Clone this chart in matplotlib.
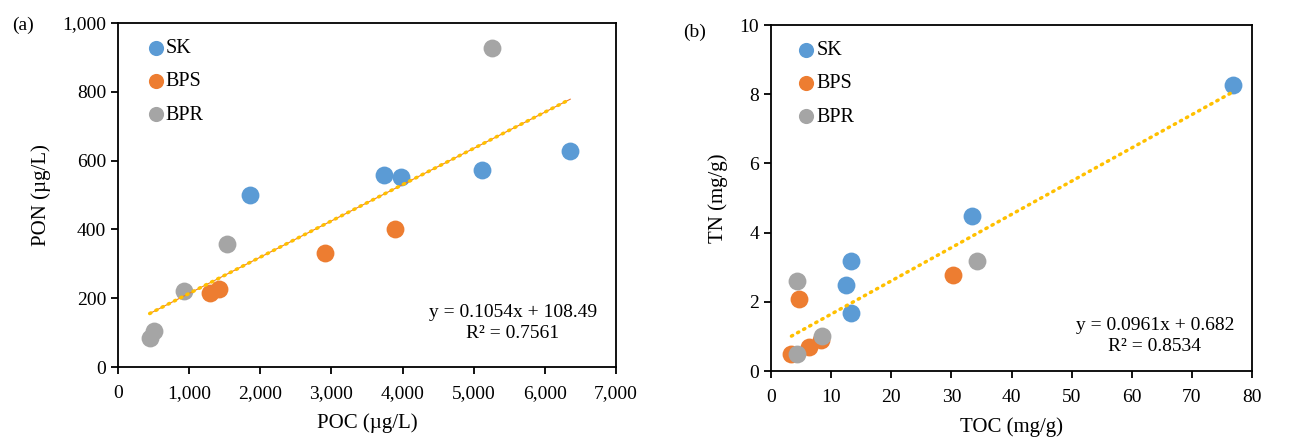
import matplotlib.pyplot as plt
from matplotlib.ticker import FuncFormatter

plt.rcParams['font.family'] = ['Liberation Serif', 'DejaVu Serif']
plt.rcParams['font.size'] = 14

groups = ['SK', 'BPS', 'BPR']
colors = {'SK': '#5B9BD5', 'BPS': '#ED7D31', 'BPR': '#A5A5A5'}

# panel (a): POC vs PON (ug/L)
poc = {
    'SK': [1850, 3740, 3975, 5120, 6357],
    'BPS': [1289, 1421, 2907, 3891],
    'BPR': [445, 502, 933, 1538, 5251],
}
pon = {
    'SK': [501, 557, 553, 572, 629],
    'BPS': [215, 228, 330, 400],
    'BPR': [84, 104, 220, 357, 927],
}
fit_a = (0.1054, 108.49)
r2_a = 0.7561

# panel (b): TOC vs TN (mg/g)
toc = {
    'SK': [12.5, 13.3, 13.3, 33.4, 76.8],
    'BPS': [3.4, 4.7, 6.3, 8.3, 30.3],
    'BPR': [4.3, 4.4, 8.4, 34.2],
}
tn = {
    'SK': [2.5, 3.19, 1.69, 4.49, 8.28],
    'BPS': [0.49, 2.08, 0.69, 0.89, 2.78],
    'BPR': [0.49, 2.59, 1.0, 3.19],
}
fit_b = (0.0961, 0.682)
r2_b = 0.8534

fig = plt.figure(figsize=(12.9, 4.37), dpi=100)
W, H = 1290, 437
axA = fig.add_axes([118 / W, 1 - 367 / H, (616 - 118) / W, (367 - 23) / H])
axB = fig.add_axes([771 / W, 1 - 371 / H, (1252 - 771) / W, (371 - 25) / H])


def draw(ax, xs, ys, fit, r2, eq, xlim, ylim, xstep, ystep, xlab, ylab, line_under, eqpos, legx):
    for g in groups:
        ax.scatter(xs[g], ys[g], s=165, color=colors[g], label=g, zorder=3, linewidths=0)
    allx = [v for g in groups for v in xs[g]]
    x0, x1 = min(allx), max(allx)
    k, b = fit
    if line_under:
        ax.plot([x0, x1], [k * x0 + b, k * x1 + b], color='#ED7D31', lw=0.8, zorder=4)
    ax.plot([x0, x1], [k * x0 + b, k * x1 + b], color='#FFC000', lw=2.5,
            linestyle=(0, (0.4, 1.6)), dash_capstyle='round', zorder=4)
    ax.set_xlim(*xlim)
    ax.set_ylim(*ylim)
    ax.set_xticks([xlim[0] + i * xstep for i in range(int((xlim[1] - xlim[0]) / xstep) + 1)])
    ax.set_yticks([ylim[0] + i * ystep for i in range(int((ylim[1] - ylim[0]) / ystep) + 1)])
    ax.set_xlabel(xlab, labelpad=8, fontsize=15)
    ax.set_ylabel(ylab, labelpad=8, fontsize=15)
    for s in ax.spines.values():
        s.set_color('black')
        s.set_linewidth(1.3)
    ax.tick_params(direction='out', length=5, width=1.3, color='black')
    ax.tick_params(axis='x', pad=8)
    ax.legend(loc='upper left', frameon=False, handletextpad=-0.5,
              labelspacing=0.7, borderaxespad=0.4, scatterpoints=1,
              markerscale=0.85, fontsize=14.5, bbox_to_anchor=(legx, 1.0))
    ax.text(eqpos[0], eqpos[1], f'{eq}\nR² = {r2}', transform=ax.transAxes,
            ha='center', va='center', fontsize=14, linespacing=1.3)


draw(axA, poc, pon, fit_a, r2_a, 'y = 0.1054x + 108.49', (0, 7000), (0, 1000), 1000, 200,
     'POC (µg/L)', 'PON (µg/L)', True, (0.793, 0.128), 0.003)
axA.xaxis.set_major_formatter(FuncFormatter(lambda v, p: f'{int(v):,}'))
axA.yaxis.set_major_formatter(FuncFormatter(lambda v, p: f'{int(v):,}'))

draw(axB, toc, tn, fit_b, r2_b, 'y = 0.0961x + 0.682', (0, 80), (0, 10), 10, 2,
     'TOC (mg/g)', 'TN (mg/g)', False, (0.798, 0.101), -0.002)

fig.text(12 / W, 1 - 25 / H, '(a)', ha='left', va='center', fontsize=14)
fig.text(683 / W, 1 - 32 / H, '(b)', ha='left', va='center', fontsize=14)

fig.savefig('out.png', dpi=100, facecolor='white')
